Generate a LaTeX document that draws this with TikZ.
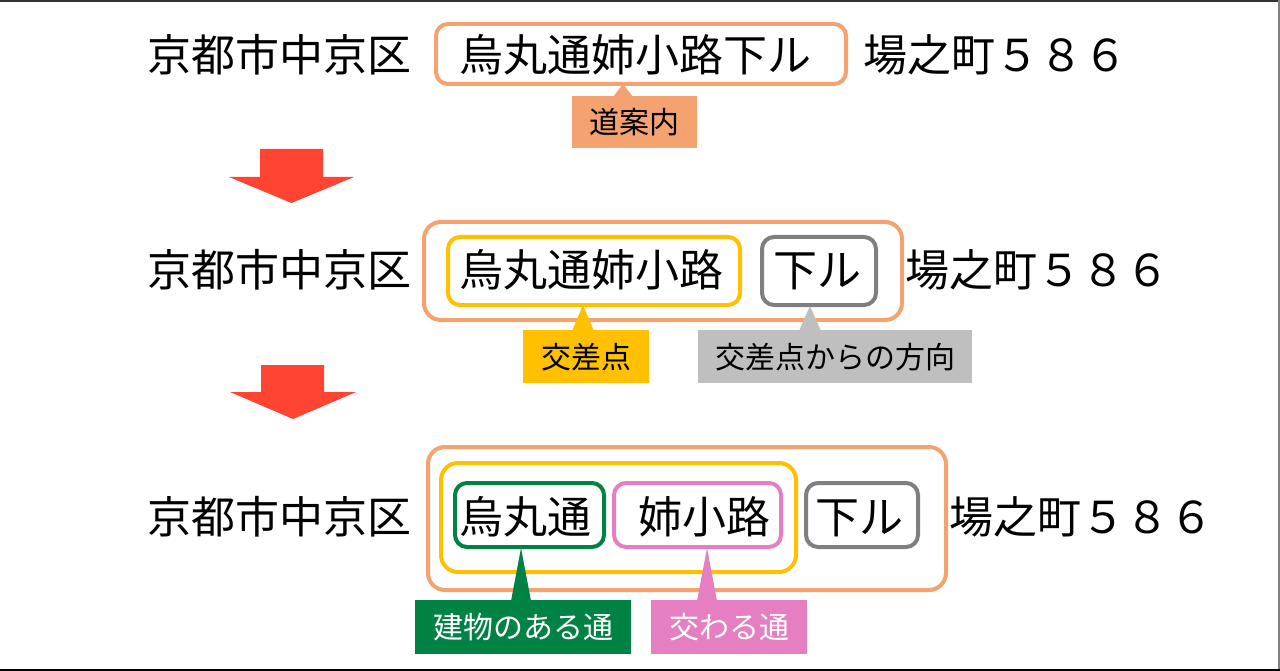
\documentclass[tikz,border=0pt]{standalone}
\usepackage{fontspec}
\newfontfamily\jp{Noto Sans CJK JP}
\definecolor{orC}{RGB}{244,162,112}
\definecolor{yeC}{RGB}{255,192,0}
\definecolor{grL}{RGB}{127,127,127}
\definecolor{grF}{RGB}{191,191,191}
\definecolor{gnC}{RGB}{0,130,68}
\definecolor{pkC}{RGB}{230,126,194}
\definecolor{rdC}{RGB}{255,69,50}
\begin{document}
\begin{tikzpicture}[x=1pt,y=-1pt,
  main/.style={font=\jp\fontsize{44}{50}\selectfont, inner sep=0pt, anchor=west, text height=38.7pt, text depth=5.3pt},
  lab/.style={font=\jp\fontsize{30}{34}\selectfont, inner sep=0pt, anchor=north west, text height=26.4pt, text depth=3.6pt},
  box/.style={line width=4pt, rounded corners=12pt, fill=white},
  bigbox/.style={line width=4pt, rounded corners=17pt, fill=white},
  downarrow/.style={fill=rdC}]
\useasboundingbox (0,0) rectangle (1280,671);
\fill[white] (0,0) rectangle (1280,671);
% frame lines
\draw[line width=2.5pt, black!80] (0,1) -- (1280,1);
\draw[line width=2pt, black!50] (1279,0) -- (1279,671);
\draw[line width=2.5pt, black] (0,670) -- (1280,670);

% ---------- Row 1 ----------
\draw[box, draw=orC] (436,24) rectangle (846,84);
\node[main] (r1a) at (147,55) {京都市中京区};
\node[main] (r1b) at (459,55) {烏丸通姉小路下ル};
\node[main] (r1c) at (863,55) {場之町５８６};
\node[lab, fill=orC, minimum width=125pt, minimum height=52pt] (l1) at (572,96) {道案内};
\fill[orC] (613,97) -- (633,97) -- (623,84) -- cycle;

% arrow 1
\fill[downarrow] (260,149) -- (323,149) -- (323,177) -- (354,177) -- (291.5,203) -- (229,177) -- (260,177) -- cycle;

% ---------- Row 2 ----------
\draw[bigbox, draw=orC] (424,222) rectangle (902,320);
\draw[box, draw=yeC] (448,237) rectangle (740,305);
\draw[box, draw=grL] (762,237) rectangle (876,305);
\node[main] (r2a) at (147,270) {京都市中京区};
\node[main] (r2b) at (459,270) {烏丸通姉小路};
\node[main] (r2c) at (773,270) {下ル};
\node[main] (r2d) at (905,270) {場之町５８６};
\node[lab, fill=yeC, minimum width=126pt, minimum height=53pt] (l2) at (523,330) {交差点};
\node[lab, fill=grF, minimum width=274pt, minimum height=53pt] (l3) at (698,330) {交差点からの方向};
\fill[yeC] (572,331) -- (594,331) -- (583,305) -- cycle;
\fill[grF] (799,331) -- (821,331) -- (810,306) -- cycle;

% arrow 2
\fill[downarrow] (261,365) -- (324,365) -- (324,392) -- (356,392) -- (293,419) -- (230,392) -- (261,392) -- cycle;

% ---------- Row 3 ----------
\draw[bigbox, draw=orC] (428,447) rectangle (946,590);
\draw[bigbox, draw=yeC] (441,463) rectangle (796,572);
\draw[box, draw=gnC] (455,483) rectangle (604,547);
\draw[box, draw=pkC] (614,483) rectangle (781,547);
\draw[box, draw=grL] (806,483) rectangle (918,547);
\node[main] (r3a) at (147,517) {京都市中京区};
\node[main] (r3b) at (459,517) {烏丸通};
\node[main] (r3c) at (638,517) {姉小路};
\node[main] (r3d) at (815,517) {下ル};
\node[main] (r3e) at (949,517) {場之町５８６};
\node[lab, fill=gnC, text=white, minimum width=216pt, minimum height=54pt] (l4) at (415,600) {建物のある通};
\node[lab, fill=pkC, text=white, minimum width=156pt, minimum height=54pt] (l5) at (651,600) {交わる通};
\fill[gnC] (511,601) -- (531,601) -- (521,548) -- cycle;
\fill[pkC] (697,601) -- (717,601) -- (707,548) -- cycle;
\end{tikzpicture}
\end{document}
